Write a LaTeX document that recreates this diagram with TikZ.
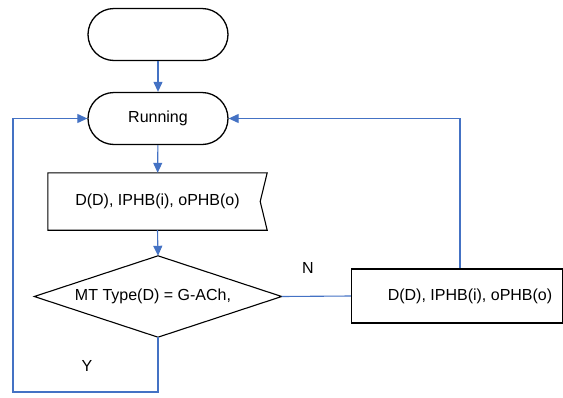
\documentclass[tikz,border=0pt]{standalone}
\usepackage{fontspec}
\setmainfont{Liberation Sans}
\usetikzlibrary{arrows.meta}
\definecolor{flowblue}{HTML}{4472C4}
\tikzset{
  term/.style={draw=black, line width=1.3pt, rectangle, rounded corners=26pt,
    minimum width=140pt, minimum height=52pt, inner sep=0pt},
  outline/.style={draw=black, line width=1.1pt},
  procbox/.style={outline, rectangle, inner sep=0pt,
    minimum width=211pt, minimum height=54pt},
  flow/.style={draw=flowblue, line width=1.1pt},
  flowarrow/.style={flow, -{Triangle[length=10pt,width=9pt]}},
  lbl/.style={inner sep=0pt}
}
\begin{document}
\begin{tikzpicture}[x=1pt,y=-1pt,font=\fontsize{16}{19}\selectfont]
\useasboundingbox (0,0) rectangle (563,397);

% terminals
\node[term] (start) at (158,34.5) {};
\node[term] (run) at (158,118.5) {Running};

% input document with notched right side
\node[rectangle, minimum width=219pt, minimum height=57pt, inner sep=0pt] (doc) at (157.5,201.5) {D(D), IPHB(i), oPHB(o)};
\draw[outline] (doc.north west) -- (doc.north east) -- ([xshift=-7pt]doc.east)
  -- (doc.south east) -- (doc.south west) -- cycle;

% decision: diamond drawn through the anchors of its text box
\node[rectangle, minimum width=247pt, minimum height=81pt, inner sep=0pt] (dec) at (158,296.5) {MT Type(D) = G-ACh,\hspace*{10pt}};
\draw[outline] (dec.north) -- (dec.east) -- (dec.south) -- (dec.west) -- cycle;

% process on the N branch
\node[procbox] (proc) at (457,296) {\hspace*{26pt}D(D), IPHB(i), oPHB(o)};

% connectors
\draw[flowarrow] (start) -- (run);
\draw[flowarrow] (run) -- (doc);
\draw[flowarrow] (doc.south) -- (dec.north);
\draw[flow] (dec.east) -- (proc.west);
\draw[flowarrow] ([xshift=3pt]proc.north) |- (run.east);
\coordinate (loopY) at (13,392);
\draw[flowarrow] (dec.south) |- (loopY) |- (run.west);

% branch labels
\node[lbl] (labN) at (308,268) {N};
\node[lbl] (labY) at (87,366) {Y};
\end{tikzpicture}
\end{document}
